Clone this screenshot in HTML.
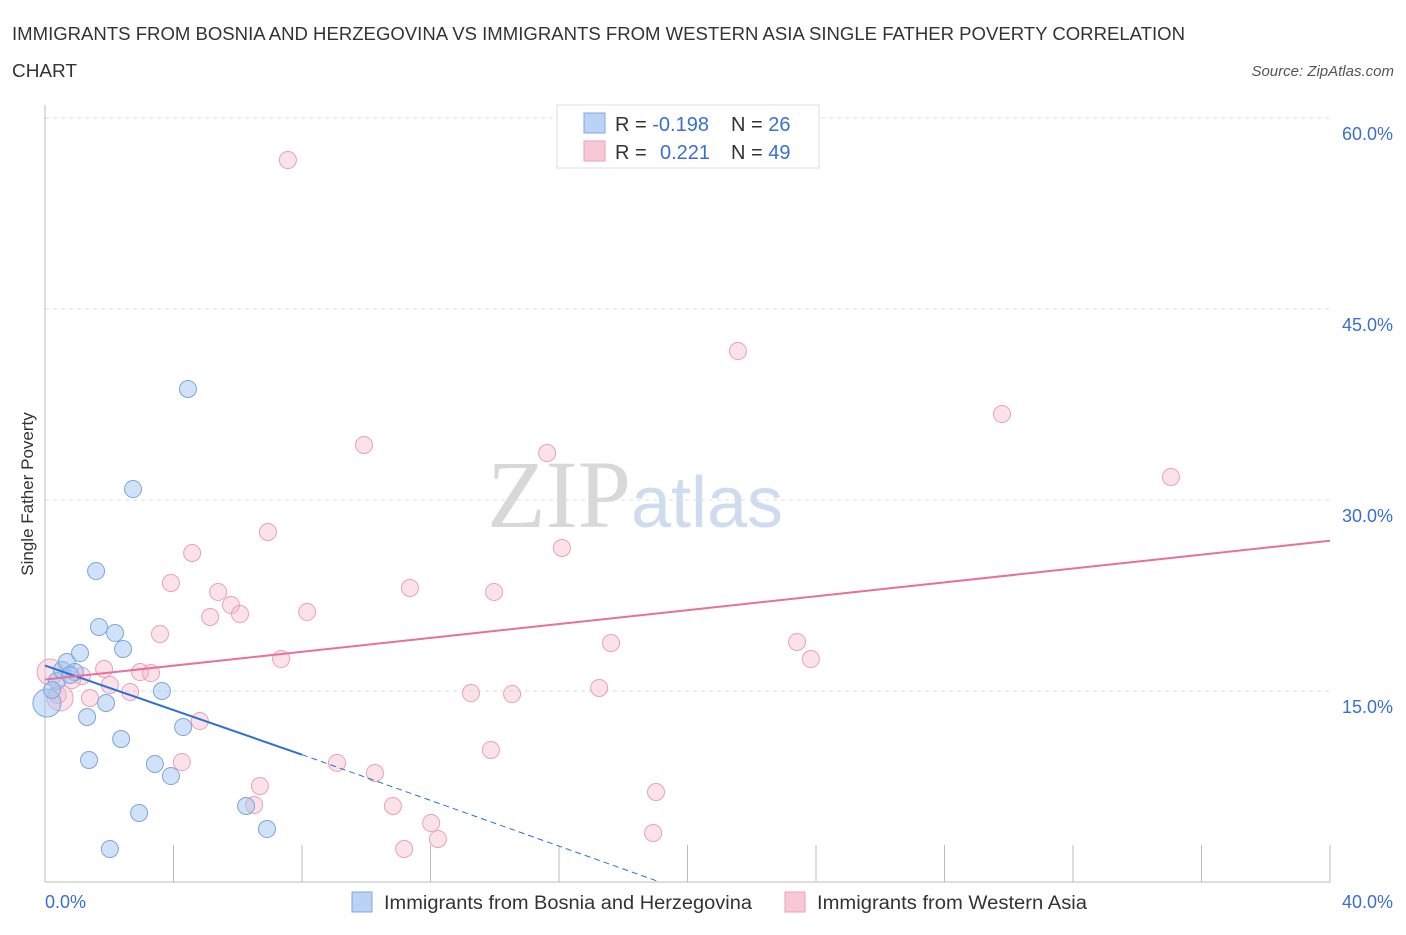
<!DOCTYPE html>
<html><head><meta charset="utf-8"><style>
body{margin:0;background:#fff;font-family:"Liberation Sans",sans-serif;}
svg text{font-family:"Liberation Sans",sans-serif;}
</style></head><body>
<svg id="c" width="1406" height="930" xmlns="http://www.w3.org/2000/svg">
<text x="12" y="40" font-size="18" fill="#333" textLength="1173" lengthAdjust="spacingAndGlyphs">IMMIGRANTS FROM BOSNIA AND HERZEGOVINA VS IMMIGRANTS FROM WESTERN ASIA SINGLE FATHER POVERTY CORRELATION</text>
<text x="12" y="77" font-size="18" fill="#333" textLength="65" lengthAdjust="spacingAndGlyphs">CHART</text>
<text x="1394" y="76" font-size="15" fill="#555" font-style="italic" text-anchor="end">Source: ZipAtlas.com</text>
<text x="635" y="527" font-size="96" fill="#ddd" text-anchor="middle" font-family="Liberation Serif"><tspan font-family="Liberation Serif" fill="#d8d8d8">ZIP</tspan><tspan font-family="Liberation Sans" fill="#cfdcf0" font-size="72">atlas</tspan></text>
<g id="grid"></g><g id="axes"></g><g id="marks"></g>
<text x="33" y="494" font-size="17" fill="#333" text-anchor="middle" transform="rotate(-90 33 494)">Single Father Poverty</text>
<g>
<rect x="557" y="105" width="262" height="63" fill="#fff" stroke="#ddd"/>
<rect x="584" y="113" width="21" height="20" fill="#b9d2f5" stroke="#80a8e0"/>
<rect x="584" y="141" width="21" height="20" fill="#f9c8d6" stroke="#eaa0b8"/>
<text x="615" y="131" font-size="20" fill="#333">R = <tspan fill="#3a6fd0">-0.198</tspan></text>
<text x="731" y="131" font-size="20" fill="#333">N = <tspan fill="#3a6fd0">26</tspan></text>
<text x="615" y="159" font-size="20" fill="#333">R = <tspan fill="#3a6fd0" x="660">0.221</tspan></text>
<text x="731" y="159" font-size="20" fill="#333">N = <tspan fill="#3a6fd0">49</tspan></text>
</g>
<g>
<rect x="352" y="892" width="20" height="20" fill="#b9d2f5" stroke="#80a8e0"/>
<text x="384" y="909" font-size="19" fill="#333" textLength="368" lengthAdjust="spacingAndGlyphs">Immigrants from Bosnia and Herzegovina</text>
<rect x="785" y="892" width="20" height="20" fill="#f9c8d6" stroke="#eaa0b8"/>
<text x="817" y="909" font-size="19" fill="#333" textLength="270" lengthAdjust="spacingAndGlyphs">Immigrants from Western Asia</text>
</g>
</svg>
<script>
const yTicks=[15,30,45,60];
const yTickLabels=["15.0%","30.0%","45.0%","60.0%"];
const xTicks=[0,4,8,12,16,20,24,28,32,36,40];
const blueX=[0.06,0.37,0.53,0.68,0.93,1.09,0.22,1.59,1.68,2.18,2.43,2.74,4.45,1.90,1.31,2.37,1.37,3.42,3.92,3.64,4.30,2.93,2.02,6.26,6.91,0.78];
const blueY=[14.06,15.79,16.65,17.28,16.49,17.98,15.08,24.42,20.03,19.56,18.30,30.86,38.72,14.06,12.96,11.23,9.58,9.27,8.32,15.0,12.17,5.42,2.59,5.97,4.16,16.26];
const pinkX=[7.56,21.57,29.79,35.05,9.93,15.63,6.94,16.09,4.58,3.92,5.39,11.36,13.98,5.79,6.07,5.14,8.16,3.58,17.62,23.41,23.84,7.35,1.84,2.96,3.30,1.15,0.84,2.02,2.65,1.40,0.40,13.26,14.54,17.25,4.82,13.88,4.26,9.09,10.27,6.69,6.51,10.83,19.02,12.02,12.23,11.18,18.93,0.16,0.47];
const pinkY=[56.70,41.70,36.75,31.81,34.32,33.69,27.49,26.23,25.84,23.48,22.78,23.09,22.78,21.75,21.05,20.81,21.21,19.48,18.77,18.85,17.51,17.51,16.73,16.49,16.41,16.18,15.86,15.47,14.92,14.45,14.69,14.84,14.76,15.24,12.64,10.37,9.42,9.35,8.56,7.54,6.05,5.97,7.07,4.63,3.38,2.59,3.85,16.49,14.45];
const blueTrend=[[0,17.0],[8,10.0],[19.14,0]];
const pinkTrend=[[0,15.9],[40,26.8]];
const NS="http://www.w3.org/2000/svg";
const X=v=>45+v*32.125, Y=v=>882-v*12.733;
function mk(t,a,p){const e=document.createElementNS(NS,t);for(const k in a)e.setAttribute(k,a[k]);document.getElementById(p).appendChild(e);return e;}
yTicks.forEach((t,i)=>{const g=mk('line',{x1:45,x2:1330,y1:Y(t),y2:Y(t),stroke:'#ddd','stroke-dasharray':'4 4'},'grid');


const l=mk('text',{x:1393,y:Y(t)+22,'font-size':18,fill:'#3a6fd0','text-anchor':'end'},'axes');l.textContent=yTickLabels[i];

});
const ax=mk('line',{x1:45,x2:1330,y1:882,y2:882,stroke:'#bbb'},'axes');


const ay=mk('line',{x1:45,x2:45,y1:105,y2:882,stroke:'#bbb'},'axes');


xTicks.forEach(t=>{const e=mk('line',{x1:X(t),x2:X(t),y1:845,y2:882,stroke:'#bbb'},'axes');

});
[["0.0%",45,'start'],["40.0%",1393,'end']].forEach(a=>{const l=mk('text',{x:a[1],y:908,'font-size':18,fill:'#3a6fd0','text-anchor':a[2]},'axes');l.textContent=a[0];

});
pinkX.forEach((v,i)=>{const c=mk('circle',{cx:X(v),cy:Y(pinkY[i]),r:(i>=47?13:8.5),fill:'rgba(246,182,200,0.4)',stroke:'#eaa0b8','stroke-width':1},'marks');

});
blueX.forEach((v,i)=>{const c=mk('circle',{cx:X(v),cy:Y(blueY[i]),r:(i==0?14:8.5),fill:'rgba(164,196,240,0.5)',stroke:'#7aa6e0','stroke-width':1},'marks');

});
const b1=mk('line',{x1:X(blueTrend[0][0]),y1:Y(blueTrend[0][1]),x2:X(blueTrend[1][0]),y2:Y(blueTrend[1][1]),stroke:'#2d6fd4','stroke-width':2},'marks');


const b2=mk('line',{x1:X(blueTrend[1][0]),y1:Y(blueTrend[1][1]),x2:X(blueTrend[2][0]),y2:Y(blueTrend[2][1]),stroke:'#2d6fd4','stroke-width':1,'stroke-dasharray':'6 4'},'marks');


const p1=mk('line',{x1:X(pinkTrend[0][0]),y1:Y(pinkTrend[0][1]),x2:X(pinkTrend[1][0]),y2:Y(pinkTrend[1][1]),stroke:'#e8709a','stroke-width':2},'marks');


</script>
</body></html>
